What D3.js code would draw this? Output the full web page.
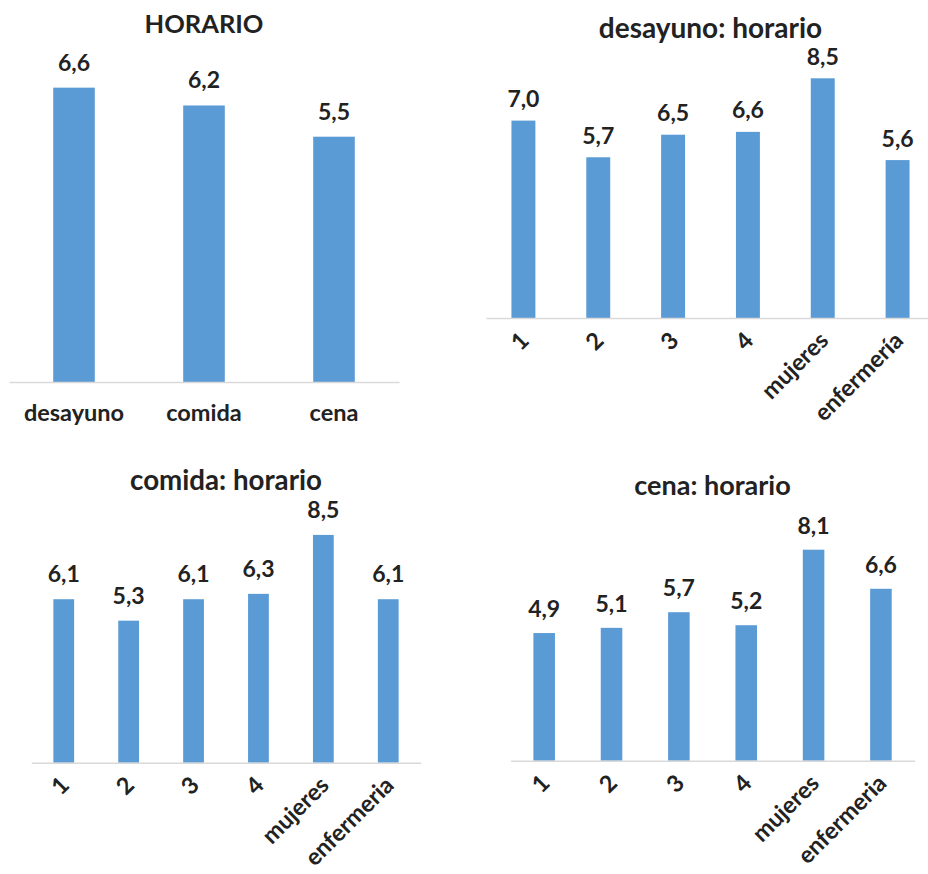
<!DOCTYPE html>
<html>
<head>
<meta charset="utf-8">
<script src="https://cdn.jsdelivr.net/npm/d3@7"></script>
<style>
  body { margin: 0; background: #fff; }
  text { font-family: Lato, "Open Sans", sans-serif; font-weight: 700; fill: #222; }
</style>
</head>
<body>
<svg id="chart" width="928" height="874"></svg>
<script>
// Average scores for meal schedules ("horario"), overall and by group
const mealCategories = ["desayuno", "comida", "cena"];
const mealValues = [6.6, 6.2, 5.5];

const desayunoCategories = ["1", "2", "3", "4", "mujeres", "enfermería"];
const desayunoValues = [7.0, 5.7, 6.5, 6.6, 8.5, 5.6];

const groupCategories = ["1", "2", "3", "4", "mujeres", "enfermeria"];
const comidaValues = [6.1, 5.3, 6.1, 6.3, 8.5, 6.1];
const cenaValues = [4.9, 5.1, 5.7, 5.2, 8.1, 6.6];

const titles = ["HORARIO", "desayuno: horario", "comida: horario", "cena: horario"];

const BAR = "#5b9bd5";
const AXIS = "#d9d9d9";
const fmt = v => d3.format(".1f")(v).replace(".", ",");

// Panel frames
const panels = [
  { title: titles[0], cats: mealCategories, vals: mealValues, titleSize: 25.5,
    x0: 9, x1: 399, base: 382, top: 25.2, yMax: 8, titleY: 33, gap: 17, rotate: false },
  { title: titles[1], cats: desayunoCategories, vals: desayunoValues, titleSize: 28,
    x0: 486, x1: 935, base: 318, top: 36, yMax: 10, titleY: 38, gap: 13.5, rotate: true },
  { title: titles[2], cats: groupCategories, vals: comidaValues, titleSize: 27.7,
    x0: 31.3, x1: 420.7, base: 762.7, top: 494.7, yMax: 10, titleY: 490, gap: 17, rotate: true },
  { title: titles[3], cats: groupCategories, vals: cenaValues, titleSize: 27,
    x0: 510.5, x1: 914.6, base: 760.7, top: 500.2, yMax: 10, titleY: 495, gap: 16, rotate: true }
];

const svg = d3.select("#chart");

panels.forEach(p => {
  const g = svg.append("g");
  const x = d3.scaleBand().domain(p.cats).range([p.x0, p.x1]).paddingInner(0.68).paddingOuter(0.34);
  const y = d3.scaleLinear().domain([0, p.yMax]).range([p.base, p.top]);
  const data = p.cats.map((c, i) => ({ c, v: p.vals[i] }));

  // title
  g.append("text")
    .attr("x", (p.x0 + p.x1) / 2)
    .attr("y", p.titleY)
    .attr("text-anchor", "middle")
    .style("font-size", p.titleSize + "px")
    .text(p.title);

  // bars
  g.selectAll("rect.bar").data(data).join("rect")
    .attr("class", "bar")
    .attr("x", d => x(d.c))
    .attr("width", x.bandwidth())
    .attr("y", d => y(d.v))
    .attr("height", d => y(0) - y(d.v))
    .attr("fill", BAR);

  // value labels
  g.selectAll("text.val").data(data).join("text")
    .attr("class", "val")
    .attr("x", d => x(d.c) + x.bandwidth() / 2)
    .attr("y", d => y(d.v) - p.gap)
    .attr("text-anchor", "middle")
    .style("font-size", "23px")
    .text(d => fmt(d.v));

  // category axis
  const ax = g.append("g")
    .attr("transform", `translate(0,${p.base})`)
    .call(d3.axisBottom(x).tickSize(0).tickSizeOuter(0));
  ax.select(".domain").attr("stroke", AXIS).attr("stroke-width", 1.5);
  const labels = ax.selectAll(".tick text")
    .attr("fill", null)
    .style("font-size", "23.5px")
    .style("font-family", null);
  if (p.rotate) {
    labels.attr("x", 0).attr("y", 0).attr("dy", 0)
      .attr("text-anchor", "end")
      .attr("transform", "translate(7,24) rotate(-45)");
  } else {
    labels.attr("y", 0).attr("dy", 39).attr("text-anchor", "middle");
  }
  ax.attr("font-family", null).attr("font-size", null);
});
</script>
</body>
</html>
